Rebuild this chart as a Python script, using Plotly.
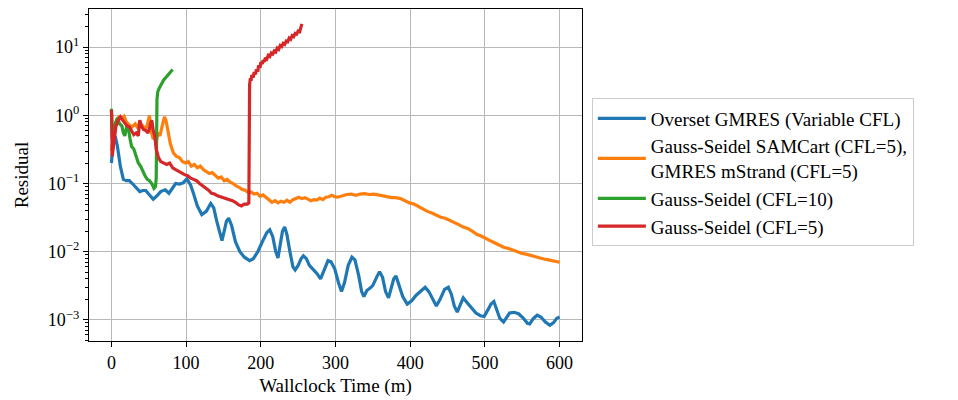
import plotly.graph_objects as go

# ---------------- data ----------------
blue_t = [0, 2, 5, 8, 12, 16, 20, 24, 28, 33, 38, 42, 46, 51, 56, 61, 66, 72, 77, 81, 86, 91, 96,
          101, 106, 110, 115, 121, 127, 133, 137, 141, 145, 148, 151, 154, 157, 161, 166, 172,
          178, 185, 190, 196, 202, 208, 212, 216, 220, 223, 226, 229, 232, 235, 239, 243, 246,
          250, 254, 257, 261, 265, 270, 275, 280, 285, 290, 294, 299, 304, 308, 312, 317, 322,
          326, 331, 335, 338, 342, 346, 350, 355, 359, 363, 367, 371, 374, 378, 381, 385, 390,
          396, 402, 408, 414, 420, 425, 430, 435, 440, 446, 451, 455, 459, 463, 467, 471, 476,
          482, 488, 494, 499, 504, 508, 512, 516, 520, 525, 529, 533, 539, 545, 551, 557, 560,
          565, 570, 575, 581, 587, 592, 596, 600]
blue_r = [0.20, 0.355, 0.50, 0.355, 0.178, 0.115, 0.110, 0.110, 0.100, 0.087, 0.076, 0.079,
          0.079, 0.068, 0.059, 0.066, 0.076, 0.081, 0.072, 0.083, 0.100, 0.098, 0.102,
          0.117, 0.095, 0.071, 0.047, 0.035, 0.039, 0.051, 0.044, 0.028, 0.018, 0.0145, 0.020,
          0.028, 0.031, 0.024, 0.014, 0.010, 0.0083, 0.0074, 0.0079, 0.010, 0.014, 0.019,
          0.021, 0.0166, 0.010, 0.0081, 0.0126, 0.020, 0.023, 0.0178, 0.010, 0.0060, 0.0054,
          0.0063, 0.0079, 0.0087, 0.0079, 0.0063, 0.0055, 0.0048, 0.0040, 0.0056, 0.0074,
          0.0071, 0.0056, 0.0035, 0.0026, 0.0035, 0.0063, 0.0083, 0.0076, 0.0045, 0.0026,
          0.0022, 0.0027, 0.0029, 0.0032, 0.0042, 0.0051, 0.0042, 0.0026, 0.0021, 0.0028,
          0.0040, 0.0044, 0.0033, 0.0022, 0.0017, 0.0019, 0.0023, 0.0026, 0.0030, 0.0026,
          0.0020, 0.0016, 0.0020, 0.0028, 0.0030, 0.0024, 0.0016, 0.0013, 0.00166, 0.0021,
          0.0018, 0.0015, 0.00126, 0.00115, 0.00112, 0.0014, 0.0017, 0.00186, 0.0014,
          0.00105, 0.00093, 0.0011, 0.00126, 0.00129, 0.00123, 0.00107, 0.00089, 0.00087,
          0.00105, 0.00117, 0.0011, 0.00093, 0.00083, 0.00091, 0.00105, 0.0011]

orange_t = [0, 3, 6, 10, 14, 17, 20, 24, 28, 32, 35, 38, 42, 45, 48, 51, 53, 56, 58, 60, 62, 65,
            68, 71, 73, 76, 79, 83, 87, 91, 95, 99, 103, 107, 111, 115, 119, 123, 127, 131, 135,
            139, 143, 147, 151, 155, 159, 163, 167, 171, 175, 179, 183, 187, 191, 195, 199, 203,
            207, 211, 215, 219, 223, 227, 231, 235, 239, 243, 247, 251, 255, 259, 263, 267, 271,
            275, 279, 283, 287, 291, 295, 299, 303, 309, 315, 321, 327, 333, 339, 345, 351, 357,
            363, 369, 375, 381, 387, 393, 399, 405, 411, 417, 423, 429, 435, 441, 447, 453, 459,
            465, 471, 477, 483, 489, 495, 501, 507, 513, 519, 525, 531, 537, 543, 549, 555, 561,
            567, 573, 579, 585, 591, 597, 600]
orange_r = [0.30, 0.55, 0.80, 0.95, 0.90, 0.97, 0.80, 0.72, 0.68, 0.75, 0.65, 0.78, 0.70, 0.62,
            0.72, 1.00, 0.60, 0.45, 0.48, 0.40, 0.55, 0.50, 0.70, 0.95, 0.85, 0.55, 0.38, 0.28,
            0.25, 0.24, 0.21, 0.20, 0.21, 0.18, 0.19, 0.17, 0.18, 0.16, 0.15, 0.14, 0.145, 0.13,
            0.12, 0.125, 0.11, 0.115, 0.105, 0.10, 0.092, 0.088, 0.082, 0.080, 0.074, 0.075,
            0.070, 0.072, 0.065, 0.068, 0.062, 0.057, 0.053, 0.056, 0.052, 0.055, 0.053, 0.057,
            0.053, 0.058, 0.061, 0.063, 0.060, 0.062, 0.059, 0.056, 0.058, 0.057, 0.061, 0.058,
            0.063, 0.064, 0.067, 0.064, 0.063, 0.066, 0.069, 0.070, 0.067, 0.070, 0.071, 0.069,
            0.070, 0.068, 0.066, 0.064, 0.062, 0.062, 0.060, 0.056, 0.052, 0.050, 0.046, 0.042,
            0.039, 0.037, 0.034, 0.032, 0.031, 0.029, 0.027, 0.025, 0.023, 0.022, 0.020, 0.018,
            0.017, 0.0155, 0.0145, 0.0135, 0.0125, 0.0116, 0.0112, 0.0105, 0.0099, 0.0095,
            0.0092, 0.0088, 0.0084, 0.0080, 0.0078, 0.0076, 0.0073, 0.0071, 0.0070]

green_t = [0, 1, 4, 8, 11, 14, 16, 18, 20, 23, 25, 27, 30, 33, 36, 39, 42, 45, 48, 51, 54, 57,
           59, 60, 61, 62, 64, 66, 68, 70, 72, 74, 76, 78, 80, 82]
green_r = [1.25, 0.45, 0.70, 0.92, 0.75, 0.70, 0.55, 0.50, 0.65, 0.62, 0.45, 0.35, 0.32, 0.25,
           0.20, 0.18, 0.15, 0.13, 0.115, 0.11, 0.10, 0.085, 0.09, 0.12, 1.7, 2.2, 2.5, 2.8,
           3.1, 3.3, 3.5, 3.7, 3.9, 4.2, 4.4, 4.7]

red_t = [0, 0.5, 1, 3, 6, 9, 12, 15, 18, 21, 24, 27, 30, 33, 36, 38, 40, 43, 46, 49, 52, 54, 56,
         58, 60, 63, 66, 70, 74, 78, 82, 86, 90, 94, 98, 102, 106, 110, 114, 118, 122, 126, 130,
         134, 138, 142, 146, 150, 154, 158, 162, 166, 170, 174, 178, 182, 184, 185, 186, 187,
         188, 190, 191, 193, 194, 196, 197, 199, 200, 202, 203, 205, 206, 208, 210, 212, 214,
         216, 218, 220, 222, 224, 226, 228, 230, 232, 234, 236, 238, 240, 242, 244, 246, 248,
         250, 252, 253, 254, 255]
red_r = [1.20, 0.95, 0.25, 0.40, 0.68, 0.85, 0.95, 0.85, 0.78, 0.70, 0.68, 0.58, 0.52, 0.55,
         0.50, 0.85, 0.70, 0.62, 0.60, 0.55, 0.72, 0.85, 0.60, 0.50, 0.32, 0.24, 0.21, 0.20,
         0.19, 0.20, 0.17, 0.16, 0.15, 0.14, 0.135, 0.13, 0.12, 0.115, 0.11, 0.10, 0.093,
         0.085, 0.080, 0.072, 0.070, 0.066, 0.064, 0.062, 0.060, 0.058, 0.056, 0.053, 0.049,
         0.047, 0.050, 0.050, 0.052, 2.8, 3.5, 3.2, 3.9, 3.6, 4.3, 4.0, 4.7, 4.4, 5.4, 5.0,
         6.0, 5.7, 6.4, 6.1, 7.0, 6.7, 7.6, 7.3, 8.2, 7.9, 8.8, 8.5, 9.7, 9.3, 10.6, 10.2,
         11.4, 11.0, 12.3, 12.0, 13.6, 13.1, 14.8, 14.3, 15.9, 15.5, 17.2, 16.8, 18.5, 19.5,
         22.0]

series_names = ["Overset GMRES (Variable CFL)",
                "Gauss-Seidel SAMCart (CFL=5),<br>GMRES mStrand (CFL=5)",
                "Gauss-Seidel (CFL=10)",
                "Gauss-Seidel (CFL=5)"]
series_colors = ["#1f77b4", "#ff7f0e", "#2ca02c", "#d62728"]

x_ticks = [0, 100, 200, 300, 400, 500, 600]
y_tick_vals = [0.001, 0.01, 0.1, 1, 10]
y_tick_text = ["10<sup>−3</sup>", "10<sup>−2</sup>", "10<sup>−1</sup>",
               "10<sup>0</sup>", "10<sup>1</sup>"]

# ---------------- figure ----------------
FONT = "'Liberation Serif', 'DejaVu Serif', serif"
fig = go.Figure()
for t, r, name, col in zip([blue_t, orange_t, green_t, red_t],
                           [blue_r, orange_r, green_r, red_r],
                           series_names, series_colors):
    fig.add_trace(go.Scatter(x=t, y=r, mode="lines", name=name,
                             line=dict(color=col, width=3.2)))

minor_vals = [k * 10 ** e for e in range(-4, 2) for k in range(2, 10)]

fig.update_layout(
    width=958, height=400,
    margin=dict(l=89, r=376, t=8, b=58),
    paper_bgcolor="white", plot_bgcolor="white",
    font=dict(family=FONT, size=18, color="black"),
    legend=dict(x=1.02, y=0.7305, xanchor="left", yanchor="top",
                bordercolor="#cccccc", borderwidth=1, bgcolor="white",
                font=dict(family=FONT, size=19), itemwidth=48, tracegroupgap=4),
    showlegend=True,
)
fig.update_xaxes(
    range=[-30, 630], tickmode="array", tickvals=x_ticks,
    showgrid=True, gridcolor="#b8b8b8", gridwidth=1.2,
    showline=True, linecolor="black", linewidth=1.3, mirror=True,
    ticks="outside", ticklen=5, tickwidth=1, tickcolor="black",
    zeroline=False,
    title=dict(text="Wallclock Time (m)", font=dict(family=FONT, size=19), standoff=6),
    tickfont=dict(family=FONT, size=18),
)
fig.update_yaxes(
    type="log", range=[-3.31, 1.56],
    tickmode="array", tickvals=y_tick_vals, ticktext=y_tick_text,
    showgrid=True, gridcolor="#b8b8b8", gridwidth=1.2,
    showline=True, linecolor="black", linewidth=1.3, mirror=True,
    ticks="outside", ticklen=5, tickwidth=1, tickcolor="black",
    minor=dict(tickmode="array", tickvals=minor_vals, ticks="outside",
               ticklen=3, tickwidth=0.8, tickcolor="black", showgrid=False),
    zeroline=False,
    title=dict(text="Residual", font=dict(family=FONT, size=19), standoff=14),
    tickfont=dict(family=FONT, size=18),
)

fig.write_html("out.html")
